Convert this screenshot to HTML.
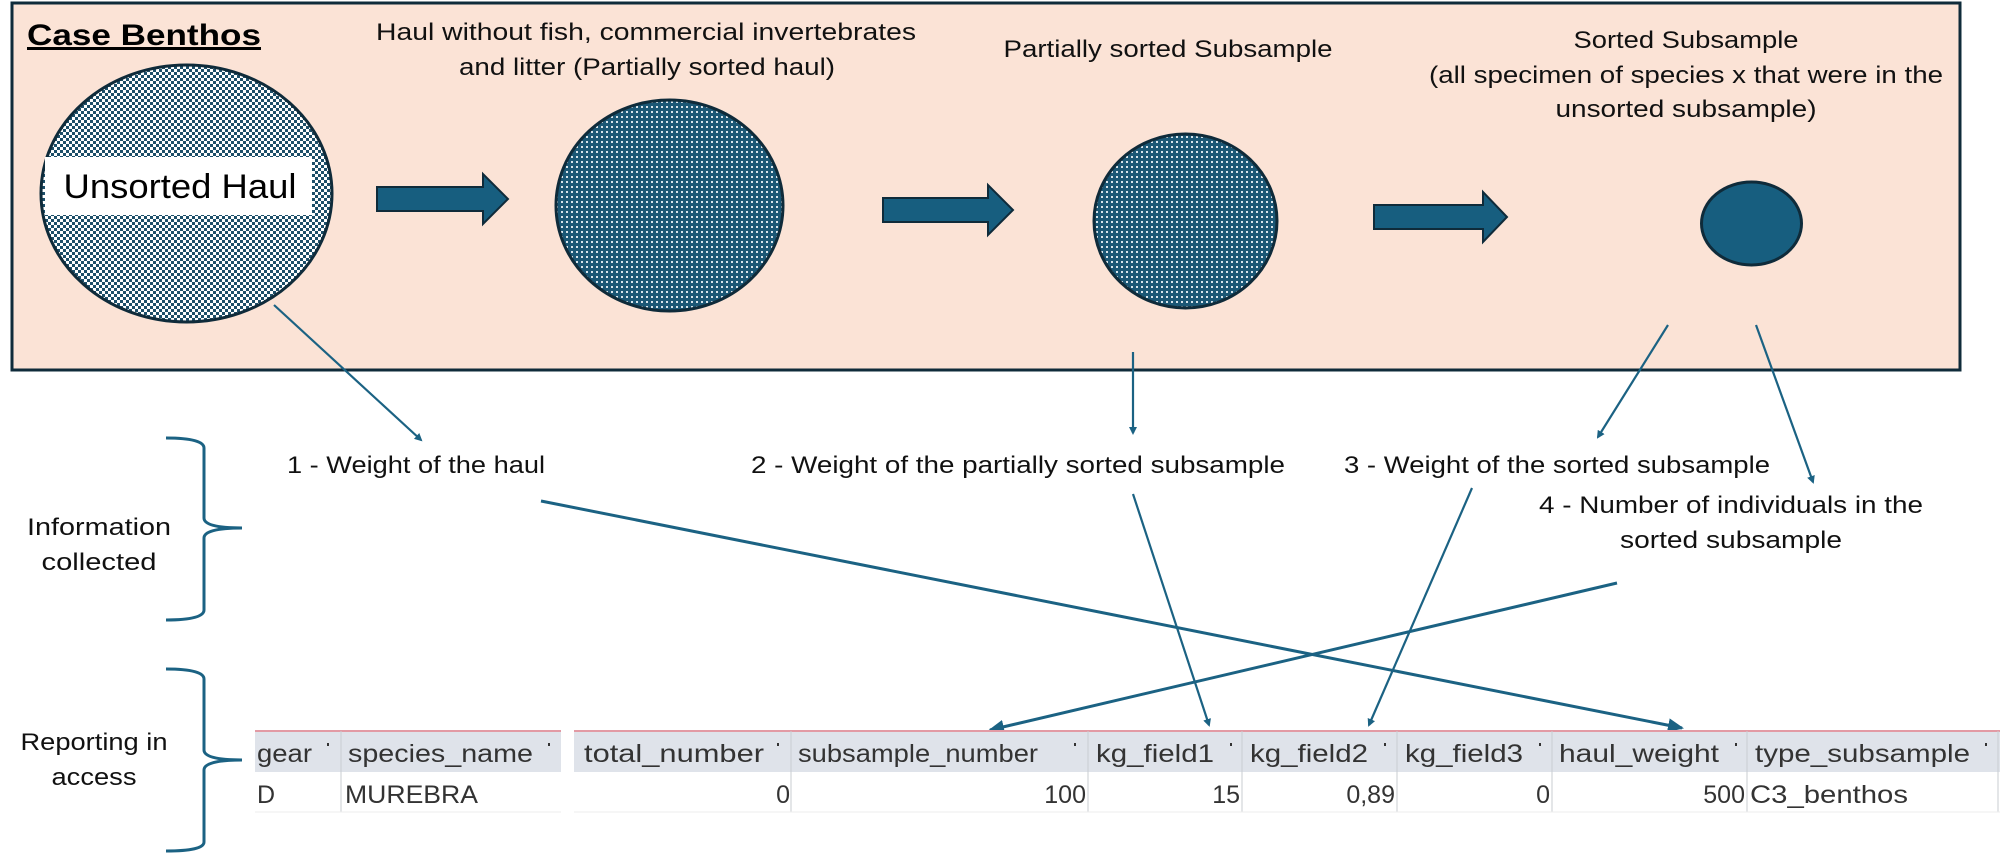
<!DOCTYPE html>
<html><head><meta charset="utf-8"><style>
html,body{margin:0;padding:0;background:#fff;}
svg{display:block;font-family:"Liberation Sans",sans-serif;}
</style></head><body>
<svg width="2000" height="853" viewBox="0 0 2000 853">
<defs>
<pattern id="dotsLight" width="6" height="6" patternUnits="userSpaceOnUse">
<rect width="6" height="6" fill="#ffffff"/><rect x="0" y="0" width="3" height="3" fill="#1d4f69"/><rect x="3" y="3" width="3" height="3" fill="#1d4f69"/>
</pattern>
<pattern id="dotsDark" width="5" height="5" patternUnits="userSpaceOnUse">
<rect width="5" height="5" fill="#1b5775"/><rect x="1" y="1" width="2" height="2" fill="#d9e4ea"/>
</pattern>
<marker id="ah" markerWidth="8" markerHeight="8" refX="6" refY="4" orient="auto" markerUnits="userSpaceOnUse" viewBox="0 0 8 8"><path d="M0,0 L8,4 L0,8 z" fill="#1b6283"/></marker>
<marker id="ahL" markerWidth="16" markerHeight="14" refX="14" refY="7" orient="auto" markerUnits="userSpaceOnUse" viewBox="0 0 16 14"><path d="M0,0 L16,7 L0,14 z" fill="#1b6283"/></marker>
</defs>

<rect x="12" y="3" width="1948" height="367" fill="#fbe3d6" stroke="#0f2b3a" stroke-width="3"/>
<text x="27" y="45" font-size="30" font-weight="bold" text-decoration="underline" textLength="234" lengthAdjust="spacingAndGlyphs">Case Benthos</text>
<line x1="27" y1="49" x2="261" y2="49" stroke="#000" stroke-width="2"/>

<g font-size="24" fill="#111" text-anchor="middle">
<text x="646" y="40" textLength="540" lengthAdjust="spacingAndGlyphs">Haul without fish, commercial invertebrates</text>
<text x="647" y="75" textLength="376" lengthAdjust="spacingAndGlyphs">and litter (Partially sorted haul)</text>
<text x="1168" y="57" textLength="329" lengthAdjust="spacingAndGlyphs">Partially sorted Subsample</text>
<text x="1686" y="48" textLength="225" lengthAdjust="spacingAndGlyphs">Sorted Subsample</text>
<text x="1686" y="83" textLength="514" lengthAdjust="spacingAndGlyphs">(all specimen of species x that were in the</text>
<text x="1686" y="117" textLength="261" lengthAdjust="spacingAndGlyphs">unsorted subsample)</text>
</g>

<ellipse cx="186.5" cy="193.5" rx="145.5" ry="128.5" fill="url(#dotsLight)" stroke="#0f2b3a" stroke-width="3"/>
<rect x="45" y="157" width="267" height="58" fill="#fff"/>
<text x="180" y="198" font-size="34" text-anchor="middle" textLength="233" lengthAdjust="spacingAndGlyphs">Unsorted Haul</text>

<ellipse cx="669.5" cy="205.5" rx="113.5" ry="105.5" fill="url(#dotsDark)" stroke="#0f2b3a" stroke-width="3"/>
<ellipse cx="1185.5" cy="221" rx="91.5" ry="87" fill="url(#dotsDark)" stroke="#0f2b3a" stroke-width="3"/>
<ellipse cx="1751.5" cy="223.5" rx="50" ry="41.5" fill="#175e7f" stroke="#0f2b3a" stroke-width="3"/>

<g fill="#175e7f" stroke="#0f2b3a" stroke-width="2">
<path d="M377,187 H483 V174 L508,199 L483,224 V211 H377 Z"/>
<path d="M883,198 H988 V185 L1013,210 L988,235 V222 H883 Z"/>
<path d="M1374,205 H1483 V192 L1507,217 L1483,242 V229 H1374 Z"/>
</g>

<g stroke="#1b6283" stroke-width="2.2" fill="none">
<line x1="274" y1="305" x2="421" y2="440" marker-end="url(#ah)"/>
<line x1="1133" y1="352" x2="1133" y2="433" marker-end="url(#ah)"/>
<line x1="1668" y1="325" x2="1598" y2="437" marker-end="url(#ah)"/>
<line x1="1756" y1="325" x2="1813" y2="482" marker-end="url(#ah)"/>
<line x1="1133" y1="494" x2="1209" y2="725" marker-end="url(#ah)"/>
<line x1="1472" y1="488" x2="1369" y2="725" marker-end="url(#ah)"/>
</g>
<g stroke="#1b6283" stroke-width="3" fill="none">
<line x1="541" y1="501" x2="1682" y2="728" marker-end="url(#ahL)"/>
<line x1="1617" y1="583" x2="990" y2="730" marker-end="url(#ahL)"/>
</g>

<g font-size="24" fill="#111">
<text x="287" y="473" textLength="258" lengthAdjust="spacingAndGlyphs">1 - Weight of the haul</text>
<text x="751" y="473" textLength="534" lengthAdjust="spacingAndGlyphs">2 - Weight of the partially sorted subsample</text>
<text x="1344" y="473" textLength="426" lengthAdjust="spacingAndGlyphs">3 - Weight of the sorted subsample</text>
<text x="1539" y="513" textLength="384" lengthAdjust="spacingAndGlyphs">4 - Number of individuals in the</text>
<text x="1731" y="548" text-anchor="middle" textLength="222" lengthAdjust="spacingAndGlyphs">sorted subsample</text>
<text x="99" y="535" text-anchor="middle" textLength="144" lengthAdjust="spacingAndGlyphs">Information</text>
<text x="99" y="570" text-anchor="middle" textLength="115" lengthAdjust="spacingAndGlyphs">collected</text>
<text x="94" y="750" text-anchor="middle" textLength="147" lengthAdjust="spacingAndGlyphs">Reporting in</text>
<text x="94" y="785" text-anchor="middle" textLength="85" lengthAdjust="spacingAndGlyphs">access</text>
</g>

<g stroke="#1b6283" stroke-width="3" fill="none">
<path d="M166,438 Q204,438 204,448 V518 Q204,528 242,528 Q204,528 204,538 V610 Q204,620 166,620"/>
<path d="M166,669 Q204,669 204,679 V750 Q204,760 242,760 Q204,760 204,770 V842 Q204,851 166,851"/>
</g>

<g>
<rect x="255" y="731" width="306" height="41" fill="#dfe3ea"/>
<rect x="574" y="731" width="1426" height="41" fill="#dfe3ea"/>
<line x1="255" y1="731" x2="561" y2="731" stroke="#e29aa4" stroke-width="2"/>
<line x1="574" y1="731" x2="2000" y2="731" stroke="#e29aa4" stroke-width="2"/>
<g stroke="#c9ccd2" stroke-width="1">
<line x1="341" y1="731" x2="341" y2="812"/><line x1="791" y1="731" x2="791" y2="812"/>
<line x1="1088" y1="731" x2="1088" y2="812"/><line x1="1242" y1="731" x2="1242" y2="812"/>
<line x1="1397" y1="731" x2="1397" y2="812"/><line x1="1552" y1="731" x2="1552" y2="812"/>
<line x1="1747" y1="731" x2="1747" y2="812"/><line x1="1998" y1="731" x2="1998" y2="812"/>
<line x1="255" y1="812" x2="561" y2="812" stroke="#eeeeee"/><line x1="574" y1="812" x2="2000" y2="812" stroke="#eeeeee"/>
</g>
<g font-size="25" fill="#333">
<text x="257" y="762" textLength="55" lengthAdjust="spacingAndGlyphs">gear</text>
<text x="348" y="762" textLength="185" lengthAdjust="spacingAndGlyphs">species_name</text>
<text x="584" y="762" textLength="180" lengthAdjust="spacingAndGlyphs">total_number</text>
<text x="798" y="762" textLength="240" lengthAdjust="spacingAndGlyphs">subsample_number</text>
<text x="1096" y="762" textLength="118" lengthAdjust="spacingAndGlyphs">kg_field1</text>
<text x="1250" y="762" textLength="118" lengthAdjust="spacingAndGlyphs">kg_field2</text>
<text x="1405" y="762" textLength="118" lengthAdjust="spacingAndGlyphs">kg_field3</text>
<text x="1559" y="762" textLength="160" lengthAdjust="spacingAndGlyphs">haul_weight</text>
<text x="1755" y="762" textLength="215" lengthAdjust="spacingAndGlyphs">type_subsample</text>
</g>
<g fill="#333">
<rect x="327" y="743" width="2" height="3"/><rect x="548" y="743" width="2" height="3"/>
<rect x="777" y="743" width="2" height="3"/><rect x="1074" y="743" width="2" height="3"/>
<rect x="1230" y="743" width="2" height="3"/><rect x="1384" y="743" width="2" height="3"/>
<rect x="1539" y="743" width="2" height="3"/><rect x="1735" y="743" width="2" height="3"/>
<rect x="1985" y="743" width="2" height="3"/>
</g>
<g font-size="25" fill="#333">
<text x="257" y="803">D</text>
<text x="345" y="803" textLength="133" lengthAdjust="spacingAndGlyphs">MUREBRA</text>
<text x="790" y="803" text-anchor="end">0</text>
<text x="1086" y="803" text-anchor="end">100</text>
<text x="1240" y="803" text-anchor="end">15</text>
<text x="1395" y="803" text-anchor="end">0,89</text>
<text x="1550" y="803" text-anchor="end">0</text>
<text x="1745" y="803" text-anchor="end">500</text>
<text x="1750" y="803" textLength="158" lengthAdjust="spacingAndGlyphs">C3_benthos</text>
</g>
</g>
</svg>
</body></html>
